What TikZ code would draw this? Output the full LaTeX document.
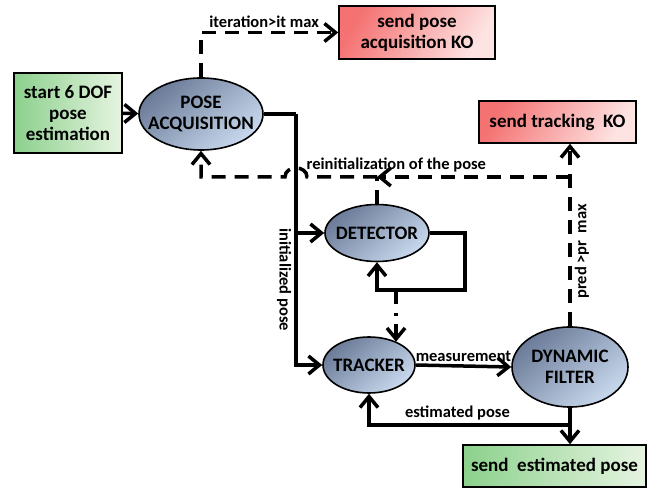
\documentclass[tikz,border=0pt]{standalone}
\usepackage{fontspec}
\setmainfont{Carlito}
\usepackage{tikz}
\usetikzlibrary {arrows.meta,
                 calc,
                 shapes.geometric}
\definecolor{blobdark}{HTML}{6B7B98}
\definecolor{bloblight}{HTML}{C8D9EE}
\definecolor{okdark}{HTML}{8CD08C}
\definecolor{oklight}{HTML}{E6F4E1}
\definecolor{kodark}{HTML}{F47272}
\definecolor{kolight}{HTML}{FDE4E3}
\tikzset{
        base/.style={draw, line width=1.6pt, align=center,
                     font=\fontsize{19}{21}\selectfont\bfseries},
        blob/.style={base, ellipse, inner ysep=0pt, inner xsep=-5pt,
                     top color=blobdark, bottom color=bloblight,
                     shading angle=40},
        okbox/.style={base, rectangle, inner sep=0pt,
                      left color=okdark, right color=oklight},
        kobox/.style={base, rectangle, inner sep=0pt,
                      top color=kodark, bottom color=kolight,
                      shading angle=60},
        lbl/.style={font=\fontsize{16.5}{18}\selectfont\bfseries, inner sep=3pt},
        myarrow/.style={-{Straight Barb[length=11pt, width=18pt]}, line width=3.5pt},
        myline/.style={line width=3.5pt},
        dasharrow/.style={myarrow, dash pattern=on 14pt off 9pt},
        dashline/.style={myline, dash pattern=on 14pt off 9pt},
 }
\begin{document}
\begin{tikzpicture}[x=1pt, y=-1pt]
    \useasboundingbox (0,0) rectangle (651,489);

    \node[okbox, minimum width=108, minimum height=80] (start) at (68,113)
         {start 6 DOF\\pose\\estimation};
    \node[blob, inner xsep=-9pt, minimum width=124, minimum height=72] (acq) at (201,114)
         {POSE\\ACQUISITION};
    \node[kobox, minimum width=156, minimum height=53] (acqko) at (417,32.5)
         {send pose\\acquisition KO};
    \node[kobox, minimum width=157, minimum height=42] (trackko) at (557.5,122)
         {send tracking~~KO};
    \node[blob, minimum width=104, minimum height=57] (detector) at (377,233) {DETECTOR};
    \node[blob, minimum width=92, minimum height=56] (tracker) at (369,365) {TRACKER};
    \node[blob, minimum width=116, minimum height=80] (filter) at (570,367)
         {DYNAMIC\\FILTER};
    \node[okbox, minimum width=183, minimum height=42] (estpose) at (554.5,466)
         {send~~estimated pose};

    \coordinate (bus) at (296,114);
    \coordinate (loop) at (465,290);
    \coordinate (drop) at (396,290);
    \coordinate (fork) at (570,177);
    \coordinate (join) at (377,177);
    \coordinate (back) at (570,425);

    \draw[myarrow] (start) -- (acq);
    \draw[dasharrow] (acq.north) |- node[lbl, pos=0.73, above] {iteration>it max} (acqko.west);

    \draw[myline] (acq.east) -- (bus);
    \draw[myarrow] (bus) |- node[lbl, pos=0.33, rotate=-90, anchor=north] {initialized pose}
         (tracker.west);
    \draw[myarrow] (bus |- detector.west) -- (detector.west);

    \draw[myarrow] (detector.east) -| (loop) -| (detector.south);
    \draw[myarrow, dash pattern=on 14pt off 9pt on 3pt off 8pt] (drop) -- (drop |- tracker.40);

    \draw[myarrow] (tracker.east) -- node[lbl, above] {measurement} (filter.west);
    \draw[myarrow] (filter.south) -- (filter.south |- estpose.north);
    \draw[myarrow] (back) -| node[lbl, pos=0.28, above] {estimated pose} (tracker.south);

    \draw[dasharrow] (filter.north) -- node[lbl, pos=0.41, rotate=90, anchor=north] {pred >pr~~max}
         (filter.north |- trackko.south);
    \draw[dasharrow] (fork) -- node[lbl, pos=0.9, above] {reinitialization of the pose} (join);
    \draw[dashline] (detector.north) -- (join);
    \draw[dasharrow] (join) -- (307,177) .. controls (307,165) and (285,165) .. (285,177)
         -- (acq.south |- join) -- (acq.south);

\end{tikzpicture}
\end{document}
